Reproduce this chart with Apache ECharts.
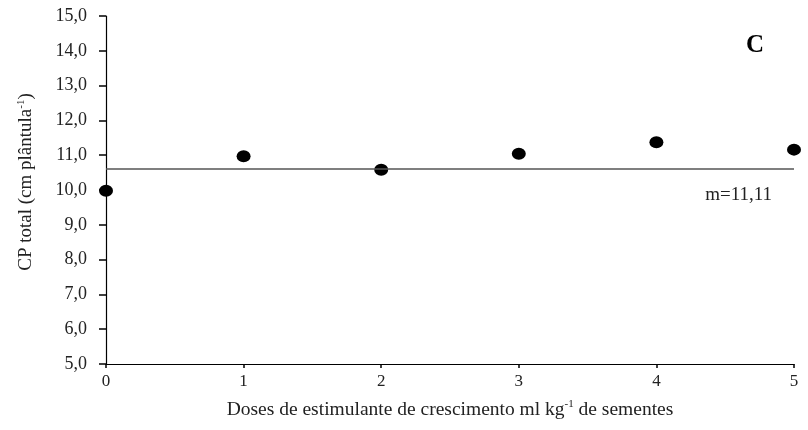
<!DOCTYPE html>
<html>
<head>
<meta charset="utf-8">
<script src="https://cdn.jsdelivr.net/npm/echarts@6/dist/echarts.min.js"></script>
<style>html,body{margin:0;padding:0;background:#fff}#c{width:808px;height:430px}</style>
</head>
<body>
<div id="c"></div>
<script>
var doses = [0, 1, 2, 3, 4, 5];
var cpTotal = [9.98, 10.97, 10.58, 11.04, 11.37, 11.16];
var meanLineY = 10.62;
var meanLabel = 'm=11,11';
var panelLabel = 'C';
var FONT = '"Liberation Serif", "DejaVu Serif", serif';

var chart = echarts.init(document.getElementById('c'), null, {renderer: 'canvas'});
chart.setOption({
  animation: false,
  backgroundColor: '#fff',
  grid: {left: 106, right: 14, top: 16, bottom: 66},
  xAxis: {
    type: 'value', min: 0, max: 5, interval: 1,
    axisLine: {lineStyle: {color: '#000', width: 1.2}},
    axisTick: {show: true, length: 4, lineStyle: {color: '#000', width: 1.5}},
    splitLine: {show: false},
    axisLabel: {color: '#222', fontFamily: FONT, fontSize: 17, margin: 9},
    name: '{a|Doses de estimulante de crescimento ml kg}{s|-1}{a| de sementes}',
    nameLocation: 'middle', nameGap: 35,
    nameTextStyle: {
      rich: {
        a: {fontFamily: FONT, fontSize: 19.5, color: '#222'},
        s: {fontFamily: FONT, fontSize: 11, color: '#222', padding: [0, 0, 10, 0]}
      }
    }
  },
  yAxis: {
    type: 'value', min: 5, max: 15, interval: 1,
    axisLine: {show: true, lineStyle: {color: '#000', width: 1.2}},
    axisTick: {show: true, inside: false, length: 7, lineStyle: {color: '#000', width: 1.5}},
    splitLine: {show: false},
    axisLabel: {color: '#222', fontFamily: FONT, fontSize: 18, margin: 19,
      formatter: function (v) { return v.toFixed(1).replace('.', ','); }},
    name: '{a|CP total (cm plântula}{s|-1}{a|)}',
    nameLocation: 'middle', nameGap: 69, nameRotate: 90,
    nameTextStyle: {
      padding: [0, 0, 0, 16],
      rich: {
        a: {fontFamily: FONT, fontSize: 19, color: '#222'},
        s: {fontFamily: FONT, fontSize: 11, color: '#222', padding: [0, 0, 10, 0]}
      }
    }
  },
  series: [{
    type: 'scatter',
    data: doses.map(function (d, i) { return [d, cpTotal[i]]; }),
    symbol: 'circle',
    symbolSize: [14, 12],
    itemStyle: {color: '#000', opacity: 1},
    clip: false,
    markLine: {
      silent: true,
      symbol: 'none',
      label: {show: false},
      lineStyle: {color: '#555', width: 1.5, type: 'solid'},
      data: [{yAxis: meanLineY}]
    }
  }],
  graphic: [
    {type: 'text', right: 36, top: 186,
     style: {text: meanLabel, font: '19px "Liberation Serif", serif', fill: '#222'}},
    {type: 'text', right: 44, top: 33,
     style: {text: panelLabel, font: 'bold 25px "Liberation Serif", serif', fill: '#000'}}
  ]
});
</script>
</body>
</html>
